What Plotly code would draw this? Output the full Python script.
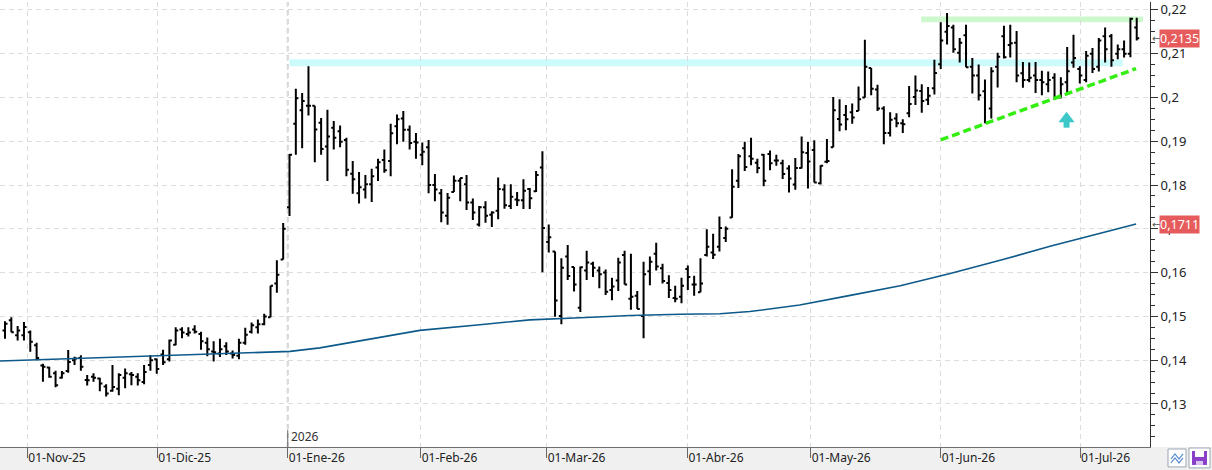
import plotly.graph_objects as go

# ---------------- data ----------------
opens = [
    .1468, .1491, .1457, .1457, .1464, .1434, .1388, .1383, .1370, .1360,
    .1375, .1400, .1405, .1355, .1362, .1358, .1340, .1330, .1335, .1360,
    .1368, .1362, .1350, .1389, .1402, .1413, .1402, .1435, .1470, .1460,
    .1470, .1460, .1440, .1420, .1415, .1432, .1415, .1410, .1440, .1465,
    .1475, .1482, .1498, .1575, .1630, .1749, .1940, .1971, .1981, .1981,
    .1942, .1888, .1931, .1923, .1903, .1826, .1781, .1790, .1802, .1840,
    .1857, .1855, .1934, .1952, .1926, .1899, .1869, .1886, .1800, .1781,
    .1730, .1784, .1810, .1802, .1760, .1710, .1749, .1732, .1741, .1790,
    .1752, .1767, .1765, .1791, .1786, .1840, .1670, .1648, .1501, .1637,
    .1613, .1520, .1605, .1620, .1605, .1600, .1560, .1582, .1640, .1540,
    .1547, .1501, .1603, .1643, .1610, .1576, .1542, .1545, .1608, .1573,
    .1555, .1640, .1646, .1659, .1679, .1726, .1810, .1884, .1866, .1851,
    .1869, .1871, .1856, .1850, .1838, .1801, .1839, .1873, .1880, .1804,
    .1853, .1886, .1951, .1960, .1966, .1969, .2000, .2067, .2018, .1975,
    .1919, .1952, .1941, .1964, .2001, .2015, .1995, .2021, .2076, .2150,
    .2160, .2102, .2142, .2070, .2050, .2014, .1975, .2070, .2140, .2120,
    .2125, .2055, .2040, .2050, .2040, .2030, .2045, .2000, .2035, .2080,
    .2065, .2040, .2100, .2070, .2140, .2140, .2100, .2110, .2100, .2160,
]
highs = [
    .1489, .1498, .1478, .1487, .1468, .1440, .1392, .1385, .1376, .1375,
    .1423, .1408, .1411, .1366, .1370, .1360, .1345, .1389, .1370, .1381,
    .1373, .1370, .1389, .1412, .1404, .1424, .1447, .1475, .1475, .1475,
    .1480, .1465, .1452, .1443, .1449, .1441, .1422, .1449, .1474, .1486,
    .1493, .1506, .1570, .1628, .1713, .1871, .2020, .2010, .2071, .1981,
    .1953, .1972, .1946, .1936, .1908, .1855, .1830, .1823, .1837, .1860,
    .1881, .1940, .1961, .1969, .1936, .1919, .1897, .1903, .1825, .1791,
    .1782, .1822, .1816, .1823, .1769, .1752, .1763, .1740, .1817, .1802,
    .1802, .1784, .1813, .1793, .1832, .1877, .1710, .1648, .1633, .1663,
    .1613, .1614, .1650, .1625, .1614, .1607, .1588, .1634, .1650, .1643,
    .1558, .1625, .1637, .1668, .1620, .1594, .1570, .1588, .1616, .1593,
    .1633, .1699, .1689, .1728, .1705, .1836, .1871, .1899, .1908, .1860,
    .1871, .1879, .1869, .1858, .1845, .1862, .1911, .1899, .1902, .1845,
    .1905, .2001, .1996, .1983, .1986, .2025, .2132, .2067, .2029, .1980,
    .1966, .1964, .1950, .2026, .2050, .2030, .2024, .2086, .2172, .2193,
    .2166, .2136, .2166, .2090, .2075, .2041, .2069, .2102, .2164, .2166,
    .2152, .2081, .2080, .2081, .2061, .2059, .2055, .2046, .2115, .2143,
    .2071, .2106, .2113, .2136, .2160, .2145, .2121, .2130, .2182, .2182,
]
lows = [
    .1449, .1464, .1445, .1445, .1419, .1400, .1351, .1360, .1338, .1358,
    .1371, .1389, .1376, .1342, .1351, .1329, .1317, .1328, .1320, .1336,
    .1343, .1342, .1345, .1376, .1369, .1389, .1397, .1434, .1450, .1454,
    .1461, .1424, .1409, .1397, .1407, .1412, .1404, .1402, .1435, .1461,
    .1461, .1480, .1498, .1554, .1630, .1729, .1869, .1884, .1959, .1852,
    .1869, .1809, .1881, .1886, .1820, .1780, .1758, .1769, .1761, .1809,
    .1828, .1820, .1893, .1899, .1881, .1860, .1845, .1781, .1763, .1715,
    .1709, .1784, .1763, .1743, .1720, .1705, .1714, .1704, .1722, .1746,
    .1745, .1752, .1745, .1745, .1784, .1601, .1646, .1499, .1482, .1583,
    .1557, .1510, .1583, .1590, .1564, .1549, .1537, .1558, .1573, .1515,
    .1517, .1450, .1571, .1605, .1575, .1542, .1532, .1530, .1560, .1547,
    .1555, .1637, .1631, .1648, .1670, .1725, .1793, .1832, .1845, .1827,
    .1797, .1834, .1844, .1814, .1783, .1789, .1838, .1792, .1806, .1801,
    .1850, .1886, .1923, .1925, .1940, .1969, .2000, .2005, .1969, .1893,
    .1911, .1932, .1919, .1955, .1983, .1965, .1983, .2007, .2065, .2121,
    .2102, .2080, .2069, .2009, .1993, .1941, .1952, .2023, .2089, .2091,
    .2035, .2022, .2035, .2010, .2005, .2012, .1994, .1998, .2010, .2068,
    .2032, .2035, .2056, .2059, .2080, .2070, .2087, .2091, .2092, .2130,
]
closes = [
    .1483, .1464, .1468, .1476, .1442, .1405, .1385, .1362, .1343, .1370,
    .1396, .1404, .1385, .1354, .1360, .1347, .1324, .1339, .1366, .1370,
    .1366, .1354, .1373, .1400, .1380, .1395, .1445, .1468, .1463, .1463,
    .1465, .1443, .1425, .1418, .1425, .1420, .1412, .1440, .1458, .1480,
    .1482, .1500, .1570, .1595, .1700, .1869, .1998, .1992, .1981, .1927,
    .1882, .1911, .1908, .1899, .1835, .1813, .1795, .1802, .1820, .1852,
    .1834, .1918, .1950, .1926, .1896, .1897, .1876, .1800, .1790, .1737,
    .1771, .1810, .1816, .1760, .1737, .1749, .1730, .1737, .1791, .1754,
    .1773, .1765, .1787, .1770, .1823, .1702, .1681, .1536, .1611, .1592,
    .1573, .1612, .1623, .1611, .1596, .1556, .1568, .1623, .1573, .1545,
    .1517, .1596, .1625, .1614, .1581, .1560, .1540, .1570, .1590, .1573,
    .1575, .1659, .1641, .1702, .1700, .1796, .1866, .1841, .1860, .1839,
    .1810, .1850, .1856, .1825, .1815, .1839, .1875, .1854, .1806, .1844,
    .1855, .1971, .1938, .1950, .1954, .1996, .2070, .2020, .1975, .1919,
    .1949, .1941, .1939, .1985, .2016, .1992, .2004, .2056, .2130, .2163,
    .2110, .2125, .2069, .2050, .2005, .1943, .2060, .2093, .2092, .2124,
    .2050, .2040, .2045, .2040, .2035, .2040, .2000, .2030, .2060, .2090,
    .2050, .2095, .2065, .2130, .2110, .2085, .2110, .2100, .2180, .2135,
]
bar_idx = list(range(len(closes)))

# moving average, read at a set of bar positions
ma_idx = [-0.8, 3.5, 11.9, 22.9, 32.4, 38.8, 45.1, 49.8, 54.6, 59.3, 65.6, 75.1,
          83.0, 91.0, 98.9, 106.8, 113.1, 117.8, 125.7, 133.7, 141.6, 149.5,
          157.4, 165.3, 173.2, 178.9]
ma_val = [.1398, .1400, .1404, .1409, .1414, .1416, .1420, .1428, .1440, .1452,
          .1468, .1481, .1492, .1497, .1502, .1505, .1506, .1511, .1526, .1548,
          .1570, .1598, .1628, .1660, .1690, .1711]

# month markers (bar-position units) and labels
month_pos = [3.53, 24.09, 44.72, 65.75, 85.68, 107.93, 127.44, 148.0, 170.04]
month_labels = ["01-Nov-25", "01-Dic-25", "01-Ene-26", "01-Feb-26", "01-Mar-26",
                "01-Abr-26", "01-May-26", "01-Jun-26", "01-Jul-26"]
year_label = "2026"

y_ticks = [0.13, 0.14, 0.15, 0.16, 0.17, 0.18, 0.19, 0.20, 0.21, 0.22]
y_tick_labels = ["0,13", "0,14", "0,15", "0,16", "0,17", "0,18", "0,19", "0,2", "0,21", "0,22"]

# drawn studies
resist_cyan = dict(x0=45.0, x1=176.8, y0=0.2071, y1=0.2087)
resist_green = dict(x0=144.9, x1=180.0, y0=0.2172, y1=0.2185)
trend_idx = [148.0, 178.9]
trend_val = [0.1903, 0.2066]
arrow_x = 167.9
arrow_head_y = 0.19515
arrow_stem_y = [0.1947, 0.1931]

# ---------------- figure ----------------
W, H = 1212, 470
ML, MR, MT, MB = 0, 62, 0, 23
PW, PH = W - ML - MR, H - MT - MB


def px(x):
    return x / PW


def py(y):
    return (PH - y) / PH


fig = go.Figure()

fig.add_trace(go.Ohlc(
    x=bar_idx, open=opens, high=highs, low=lows, close=closes,
    increasing=dict(line=dict(color="#000000", width=2)),
    decreasing=dict(line=dict(color="#000000", width=2)),
    tickwidth=0.4, hoverinfo="skip", showlegend=False,
))
fig.add_trace(go.Scatter(
    x=ma_idx, y=ma_val, mode="lines",
    line=dict(color="#0d5a8a", width=1.6), hoverinfo="skip", showlegend=False,
))
fig.add_trace(go.Scatter(
    x=trend_idx, y=trend_val, mode="lines",
    line=dict(color="#33ee11", width=3.5, dash="8px,4px"),
    hoverinfo="skip", showlegend=False,
))
# cyan up-arrow
fig.add_trace(go.Scatter(
    x=[arrow_x, arrow_x], y=arrow_stem_y, mode="lines",
    line=dict(color="#3cc8c8", width=6), hoverinfo="skip", showlegend=False,
))
fig.add_trace(go.Scatter(
    x=[arrow_x], y=[arrow_head_y], mode="markers",
    marker=dict(symbol="triangle-up", size=14, color="#3cc8c8", line=dict(width=0)),
    hoverinfo="skip", showlegend=False,
))

shapes = []
# bottom grey axis band
shapes.append(dict(type="rect", xref="paper", yref="paper", x0=0, x1=W / PW,
                   y0=py(H), y1=0, fillcolor="#f0f0f0", line=dict(width=0), layer="below"))
# resistance bands
shapes.append(dict(type="rect", xref="x", yref="y", layer="below", line=dict(width=0),
                   fillcolor="#ccfbfc", **resist_cyan))
shapes.append(dict(type="rect", xref="x", yref="y", layer="below", line=dict(width=0),
                   fillcolor="#cdf7cd", **resist_green))
# year separator
shapes.append(dict(type="line", xref="x", yref="paper", x0=month_pos[2], x1=month_pos[2],
                   y0=0, y1=1, line=dict(color="#cfcfcf", width=2, dash="5px,4px"), layer="below"))
shapes.append(dict(type="line", xref="x", yref="paper", x0=month_pos[2], x1=month_pos[2],
                   y0=0, y1=py(430), line=dict(color="#666666", width=1)))
# bottom-right icons
shapes.append(dict(type="rect", xref="paper", yref="paper", x0=px(1168), x1=px(1186),
                   y0=py(467), y1=py(449), fillcolor="#ffffff", line=dict(color="#9aa6b2", width=1)))
shapes.append(dict(type="path", xref="paper", yref="paper",
                   path=f"M {px(1171)} {py(459)} L {px(1175)} {py(454)} L {px(1179)} {py(459)} L {px(1183)} {py(454)}",
                   line=dict(color="#5b8fd0", width=1.2)))
shapes.append(dict(type="path", xref="paper", yref="paper",
                   path=f"M {px(1171)} {py(463)} L {px(1175)} {py(458)} L {px(1179)} {py(463)} L {px(1183)} {py(458)}",
                   line=dict(color="#5b8fd0", width=1.2)))
shapes.append(dict(type="rect", xref="paper", yref="paper", x0=px(1189), x1=px(1210),
                   y0=py(468), y1=py(448), fillcolor="#ffffff", line=dict(color="#9aa6b2", width=1)))
shapes.append(dict(type="rect", xref="paper", yref="paper", x0=px(1192), x1=px(1207),
                   y0=py(465), y1=py(451), fillcolor="#8a3fc8", line=dict(width=0)))
shapes.append(dict(type="rect", xref="paper", yref="paper", x0=px(1195), x1=px(1204),
                   y0=py(457), y1=py(451), fillcolor="#ffffff", line=dict(width=0)))
shapes.append(dict(type="rect", xref="paper", yref="paper", x0=px(1196), x1=px(1203),
                   y0=py(465), y1=py(461), fillcolor="#d9c4ef", line=dict(width=0)))


def tag(v):
    return f"{v:.4f}".replace(".", ",")


annotations = [
    dict(x=month_pos[2], y=0, xref="x", yref="paper", text=year_label, showarrow=False,
         xanchor="left", yanchor="bottom", xshift=1, yshift=0,
         font=dict(size=12, color="#333333")),
]
for v in (closes[-1], ma_val[-1]):
    annotations.append(dict(x=1, y=v, xref="paper", yref="y", text=tag(v), showarrow=False,
                            xanchor="left", xshift=9, bgcolor="#e65b5b", borderpad=0,
                            font=dict(size=12.5, color="#ffffff")))
    annotations.append(dict(x=1, y=v, xref="paper", yref="y", text="←", showarrow=False,
                            xanchor="left", xshift=0, font=dict(size=10, color="#555555")))

fig.update_layout(
    width=W, height=H,
    margin=dict(l=ML, r=MR, t=MT, b=MB, pad=0),
    paper_bgcolor="#ffffff", plot_bgcolor="#ffffff",
    font=dict(family="Noto Sans, DejaVu Sans, sans-serif", size=12, color="#222222"),
    showlegend=False,
    shapes=shapes, annotations=annotations,
    xaxis=dict(
        range=[-0.79, 181.1], rangeslider=dict(visible=False),
        tickmode="array", tickvals=month_pos, ticktext=month_labels,
        ticks="outside", ticklen=10, tickcolor="#666666", tickwidth=1,
        ticklabelposition="outside right",
        showgrid=True, gridcolor="#dcdcdc", griddash="5px,4px", gridwidth=1,
        showline=True, linecolor="#6e6e6e", linewidth=1,
        zeroline=False, fixedrange=True,
        tickfont=dict(size=12, color="#222222"),
    ),
    yaxis=dict(
        range=[0.12017, 0.2218], side="right",
        tickmode="array", tickvals=y_ticks, ticktext=y_tick_labels,
        ticks="outside", ticklen=7, tickcolor="#333333",
        ticklabeloverflow="allow",
        minor=dict(tickmode="linear", tick0=0.12, dtick=0.0025, ticks="outside",
                   ticklen=4, tickcolor="#333333", showgrid=False),
        showgrid=True, gridcolor="#dcdcdc", griddash="5px,4px", gridwidth=1,
        showline=True, linecolor="#333333", linewidth=1,
        zeroline=False, fixedrange=True,
        tickfont=dict(size=13, color="#222222"),
    ),
)

fig.write_html("out.html")
